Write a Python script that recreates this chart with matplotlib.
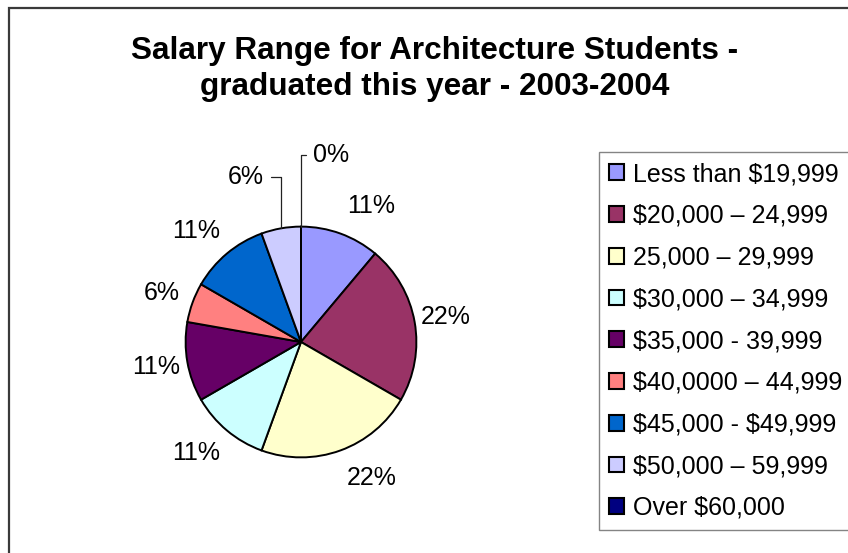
import numpy as np
import matplotlib
matplotlib.use("Agg")
import matplotlib.pyplot as plt
from matplotlib.patches import Rectangle

plt.rcParams['font.family'] = ['Liberation Sans', 'DejaVu Sans']

title = "Salary Range for Architecture Students -\ngraduated this year - 2003-2004"
categories = ["Less than $19,999", "$20,000 \u2013 24,999", "25,000 \u2013 29,999",
              "$30,000 \u2013 34,999", "$35,000 - 39,999", "$40,0000 \u2013 44,999",
              "$45,000 - $49,999", "$50,000 \u2013 59,999", "Over $60,000"]
counts = [2, 4, 4, 2, 2, 1, 2, 1, 0]
colors = ["#9999FF", "#993366", "#FFFFCC", "#CCFFFF", "#660066",
          "#FF8080", "#0066CC", "#CCCCFF", "#000080"]

W, H = 848, 553
fig = plt.figure(figsize=(W / 100, H / 100), dpi=100)

# outer chart frame (extends past right/bottom edges like the reference)
fig.add_artist(Rectangle((8.5 / W, -0.2), 2.0, 1.2 - 7.8 / H,
                         transform=fig.transFigure, fill=False,
                         edgecolor="#3a3a3a", linewidth=1.6))

# pie axes: square in pixels centred on (301, 342) from top
cx, cy, side = 301, 342, 300
ax = fig.add_axes([(cx - side / 2) / W, (H - cy - side / 2) / H, side / W, side / H])

wedges, _ = ax.pie(counts, colors=colors, startangle=90, counterclock=False,
                   radius=1.0,
                   wedgeprops=dict(edgecolor='black', linewidth=1.4))
ax.set_xlim(-1.3, 1.3)
ax.set_ylim(-1.3, 1.3)
ax.set_aspect('equal')
ax.axis('off')

total = sum(counts)
pct = [f"{round(100 * c / total):.0f}%" for c in counts]
leader = dict(arrowstyle='-', color='#222222', lw=0.9, shrinkA=3, shrinkB=0,
              connectionstyle='angle,angleA=0,angleB=90,rad=0')
for i, w in enumerate(wedges):
    th = np.deg2rad((w.theta1 + w.theta2) / 2)
    c, s = np.cos(th), np.sin(th)
    xy = (c, s)
    if i == len(wedges) - 2:  # dragged label with leader line
        ax.annotate(pct[i], xy=xy, xytext=(-35, 51), textcoords='offset pixels',
                    ha='center', va='center', fontsize=18, arrowprops=leader)
    elif i == len(wedges) - 1:
        ax.annotate(pct[i], xy=xy, xytext=(30, 72), textcoords='offset pixels',
                    ha='center', va='center', fontsize=18, arrowprops=leader)
    else:
        ox = np.sign(c) * 31
        oy = 29 * s
        ax.annotate(pct[i], xy=xy, xytext=(ox, oy), textcoords='offset pixels',
                    ha='center', va='center', fontsize=18)

fig.text(435 / W, 1 - 69 / H, title, ha='center', va='center',
         fontsize=22.7, fontweight='bold', linespacing=1.27)

shown = [c.replace('$', r'\$') for c in categories]
leg = fig.legend(wedges, shown, loc='upper left',
                 bbox_to_anchor=(599 / W, 1 - 152 / H), fontsize=18,
                 frameon=True, fancybox=False, edgecolor='#666666',
                 handlelength=0.6, handleheight=0.6, handletextpad=0.36,
                 labelspacing=0.71, borderpad=0.4, borderaxespad=0.0)
leg.get_frame().set_linewidth(1.0)
for h in leg.legend_handles:
    h.set_edgecolor('black')
    h.set_linewidth(1.5)

fig.savefig("out.png", dpi=100)
